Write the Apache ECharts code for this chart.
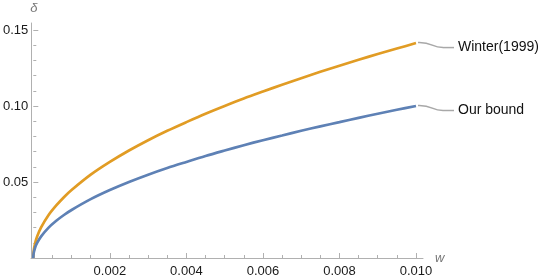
<!DOCTYPE html>
<html><head><meta charset="utf-8">
<script src="https://cdn.jsdelivr.net/npm/echarts@6/dist/echarts.min.js"></script>
<style>html,body{margin:0;padding:0;background:#fff}#c{width:554px;height:279px}</style>
</head><body><div id="c"></div>
<script>
const wValues = [0, 0.00001, 0.00005, 0.0001, 0.0002, 0.0004, 0.0006, 0.0008, 0.001, 0.0015, 0.002, 0.0025, 0.003, 0.0035, 0.004, 0.0045, 0.005, 0.0055, 0.006, 0.0065, 0.007, 0.0075, 0.008, 0.0085, 0.009, 0.0095, 0.01];
const ourBound = [0, 0.0032, 0.0071, 0.0100, 0.0141, 0.0200, 0.0245, 0.0283, 0.0316, 0.0387, 0.0447, 0.0500, 0.0548, 0.0592, 0.0632, 0.0671, 0.0707, 0.0742, 0.0775, 0.0806, 0.0837, 0.0866, 0.0894, 0.0922, 0.0949, 0.0975, 0.1000];
const winter = [0, 0.0045, 0.0100, 0.0141, 0.0200, 0.0283, 0.0346, 0.0400, 0.0447, 0.0548, 0.0632, 0.0707, 0.0775, 0.0837, 0.0894, 0.0949, 0.1000, 0.1049, 0.1095, 0.1140, 0.1183, 0.1225, 0.1265, 0.1304, 0.1342, 0.1378, 0.1414];
const seriesNames = ['Winter(1999)', 'Our bound'];
const xTicks = [0.002, 0.004, 0.006, 0.008, 0.010];
const yTicks = [0.05, 0.10, 0.15];

const chart = echarts.init(document.getElementById('c'));
const axisGray = '#b0b0b0';
const font = 'Liberation Sans, Arial, sans-serif';
function near(v, arr){ return arr.some(t => Math.abs(t - v) < 1e-9); }
chart.setOption({
  animation: false,
  grid: [
    {left: 31, right: 138, top: 30, bottom: 21},
    {left: 31, right: 131, top: 23, bottom: 21}
  ],
  xAxis: [{
    type: 'value', gridIndex: 0, min: 0, max: 0.01, interval: 0.002,
    axisLine: {show: false},
    axisTick: {show: true, inside: true, length: 5, lineStyle: {color: axisGray}},
    minorTick: {show: true, splitNumber: 4, length: 3, lineStyle: {color: axisGray}},
    splitLine: {show: false},
    axisLabel: {margin: 7, color: '#1a1a1a', fontSize: 13, fontFamily: font,
      formatter: v => near(v, xTicks) ? v.toFixed(3) : ''}
  }, {
    type: 'value', gridIndex: 1, min: 0, max: 0.0102,
    axisLine: {show: true, lineStyle: {color: axisGray, width: 1}},
    axisTick: {show: false}, axisLabel: {show: false}, splitLine: {show: false}
  }],
  yAxis: [{
    type: 'value', gridIndex: 0, min: 0, max: 0.15, interval: 0.05,
    axisLine: {show: false},
    axisTick: {show: true, inside: true, length: 5, lineStyle: {color: axisGray}},
    minorTick: {show: true, splitNumber: 5, length: 3, lineStyle: {color: axisGray}},
    splitLine: {show: false},
    axisLabel: {margin: 5, color: '#1a1a1a', fontSize: 13, fontFamily: font,
      formatter: v => near(v, yTicks) ? v.toFixed(2) : ''}
  }, {
    type: 'value', gridIndex: 1, min: 0, max: 0.1546,
    axisLine: {show: true, lineStyle: {color: axisGray, width: 1}},
    axisTick: {show: false}, axisLabel: {show: false}, splitLine: {show: false}
  }],
  series: [{
    name: seriesNames[0], type: 'line', xAxisIndex: 0, yAxisIndex: 0,
    data: wValues.map((w, i) => [w, winter[i]]), smooth: 0.3, showSymbol: false,
    lineStyle: {color: '#e19c24', width: 2.7}, z: 3
  }, {
    name: seriesNames[1], type: 'line', xAxisIndex: 0, yAxisIndex: 0,
    data: wValues.map((w, i) => [w, ourBound[i]]), smooth: 0.3, showSymbol: false,
    lineStyle: {color: '#5e81b5', width: 2.7}, z: 3
  }]
});

function leader(endVal, name){
  const p = chart.convertToPixel({xAxisIndex: 0, yAxisIndex: 0}, [wValues[wValues.length-1], endVal]);
  const x = p[0], y = p[1];
  return [{
    type: 'bezierCurve', silent: true,
    shape: {x1: x + 2, y1: y - 0.5, x2: x + 27, y2: y + 4.5, cpx1: x + 17, cpy1: y - 1, cpx2: x + 15, cpy2: y + 4.5},
    style: {stroke: '#a8a8a8', lineWidth: 1.5, fill: null}
  }, {
    type: 'line', silent: true,
    shape: {x1: x + 27, y1: y + 4.5, x2: x + 38, y2: y + 4.5},
    style: {stroke: '#a8a8a8', lineWidth: 1.5}
  }, {
    type: 'text', silent: true, x: x + 42, y: y + 4.5,
    style: {text: name, fill: '#111', font: '14px ' + font, textVerticalAlign: 'middle'}
  }];
}
const o = chart.convertToPixel({xAxisIndex: 0, yAxisIndex: 0}, [0, 0]);
const xEnd = chart.convertToPixel({xAxisIndex: 1}, 0.0102);
const yTop = chart.convertToPixel({yAxisIndex: 1}, 0.1546);
chart.setOption({
  graphic: [
    ...leader(winter[winter.length-1], seriesNames[0]),
    ...leader(ourBound[ourBound.length-1], seriesNames[1]),
    {type: 'text', silent: true, x: o[0] - 3, y: yTop - 21,
      style: {text: 'δ', fill: '#777', font: 'italic 13px ' + font}},
    {type: 'text', silent: true, x: xEnd + 12, y: o[1] + 0,
      style: {text: 'w', fill: '#777', font: 'italic 13px ' + font, textVerticalAlign: 'middle'}}
  ]
});
</script></body></html>
